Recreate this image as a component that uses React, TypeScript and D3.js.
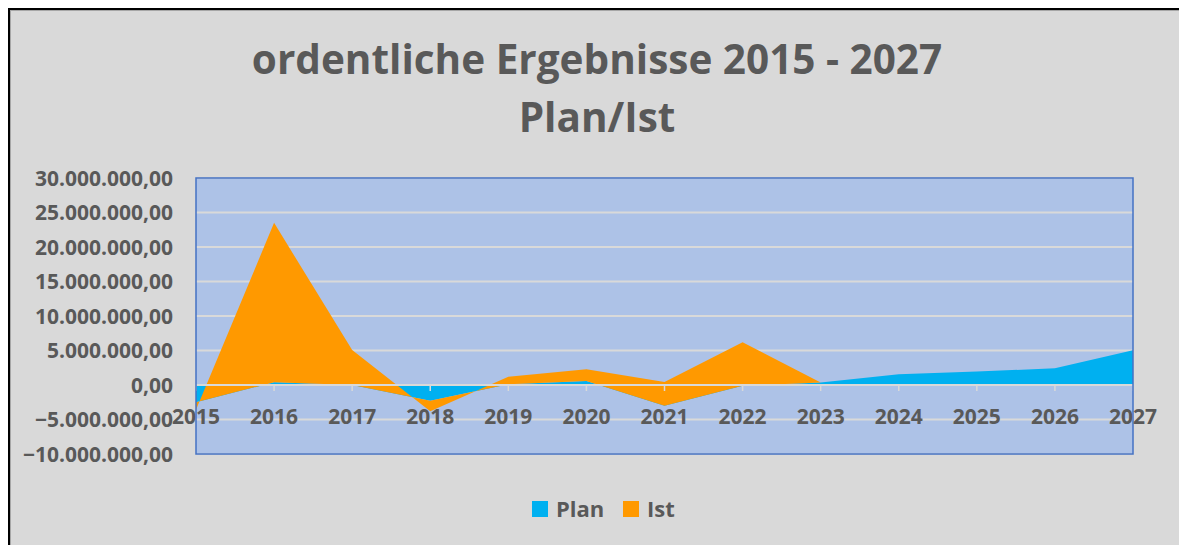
import React from 'react';
import * as d3 from 'd3';

// Werte in Euro (gestapelte Flächen: Plan unten, Ist darüber)
const years = ['2015', '2016', '2017', '2018', '2019', '2020', '2021', '2022', '2023', '2024', '2025', '2026', '2027'];
const plan = [-2500000, 400000, 0, -2300000, 100000, 580000, -3000000, -100000, 350000, 1550000, 1940000, 2420000, 5030000];
const ist = [-1100000, 23100000, 5070000, -1500000, 1100000, 1720000, 3430000, 6300000, 0, 0, 0, 0, 0];
const yTicks = [-10000000, -5000000, 0, 5000000, 10000000, 15000000, 20000000, 25000000, 30000000];
const seriesNames = ['Plan', 'Ist'];
const seriesColors = ['#00b0f0', '#ff9900'];

const W = 1179;
const H = 537;
const plot = { left: 188, right: 1125, top: 170, bottom: 446 };
const font = "'Open Sans', 'Noto Sans', sans-serif";
const textColor = '#595959';

const de = d3.formatLocale({ decimal: ',', thousands: '.', grouping: [3], currency: ['', ' €'] });
const fmt = de.format(',.2f');

export default function App() {
  const x = d3.scalePoint<string>().domain(years).range([plot.left, plot.right]);
  const y = d3.scaleLinear().domain([-10000000, 30000000]).range([plot.bottom, plot.top]);

  const rows = years.map((yr, i) => ({ year: yr, Plan: plan[i], Ist: ist[i] }));
  const stacked = d3.stack<any>().keys(seriesNames)(rows);

  const area = d3
    .area<any>()
    .x(d => x(d.data.year) as number)
    .y0(d => y(d[0]))
    .y1(d => y(d[1]));

  const zeroY = y(0);

  return (
    <svg width={W} height={H} style={{ display: 'block', overflow: 'hidden' }}>
      {/* Diagrammfläche */}
      <rect x={0} y={0} width={W} height={H} fill="#d9d9d9" />
      <line x1={1} y1={0} x2={1} y2={H} stroke="#000" strokeWidth={2} />
      <line x1={0} y1={1} x2={W} y2={1} stroke="#000" strokeWidth={2} />
      <line x1={2.5} y1={2} x2={2.5} y2={H} stroke="#a6a6a6" strokeWidth={1} />
      <line x1={2} y1={2.5} x2={1177} y2={2.5} stroke="#a6a6a6" strokeWidth={1} />
      <line x1={1177.5} y1={0} x2={1177.5} y2={H} stroke="#808080" strokeWidth={1.5} />

      {/* Titel */}
      <text x={589} y={66} textAnchor="middle" fontFamily={font} fontWeight={700} fontSize={40.5} fill={textColor}>
        ordentliche Ergebnisse 2015 - 2027
      </text>
      <text x={589} y={124} textAnchor="middle" fontFamily={font} fontWeight={700} fontSize={40.5} fill={textColor}>
        Plan/Ist
      </text>

      {/* Zeichnungsfläche */}
      <rect x={plot.left} y={plot.top} width={plot.right - plot.left} height={plot.bottom - plot.top} fill="#adc2e7" />
      {yTicks.map(t => (
        <line key={t} x1={plot.left} x2={plot.right} y1={y(t)} y2={y(t)} stroke="#d9d9d9" strokeWidth={2} />
      ))}

      {stacked.map((s, i) => (
        <path key={s.key} d={area(s) || ''} fill={seriesColors[i]} />
      ))}

      {/* Rubrikenachse bei 0 */}
      <line x1={plot.left} x2={plot.right} y1={zeroY} y2={zeroY} stroke="#d9d9d9" strokeWidth={2} />
      {years.map(yr => (
        <line key={yr} x1={x(yr)} x2={x(yr)} y1={zeroY} y2={zeroY + 6} stroke="#d9d9d9" strokeWidth={1.5} />
      ))}

      <rect
        x={plot.left}
        y={plot.top}
        width={plot.right - plot.left}
        height={plot.bottom - plot.top}
        fill="none"
        stroke="#4472c4"
        strokeWidth={1.5}
      />

      {/* Achsenbeschriftungen */}
      {yTicks.map(t => (
        <text key={t} x={165} y={y(t) + 7.5} textAnchor="end" fontFamily={font} fontWeight={700} fontSize={21} fill={textColor}>
          {fmt(t)}
        </text>
      ))}
      {years.map(yr => (
        <text key={yr} x={x(yr)} y={416} textAnchor="middle" fontFamily={font} fontWeight={700} fontSize={21} fill={textColor}>
          {yr}
        </text>
      ))}

      {/* Legende */}
      <rect x={524} y={493} width={16} height={16} fill={seriesColors[0]} />
      <text x={548} y={509} fontFamily={font} fontWeight={700} fontSize={22} fill={textColor}>
        {seriesNames[0]}
      </text>
      <rect x={615} y={493} width={16} height={16} fill={seriesColors[1]} />
      <text x={639} y={509} fontFamily={font} fontWeight={700} fontSize={22} fill={textColor}>
        {seriesNames[1]}
      </text>
    </svg>
  );
}
